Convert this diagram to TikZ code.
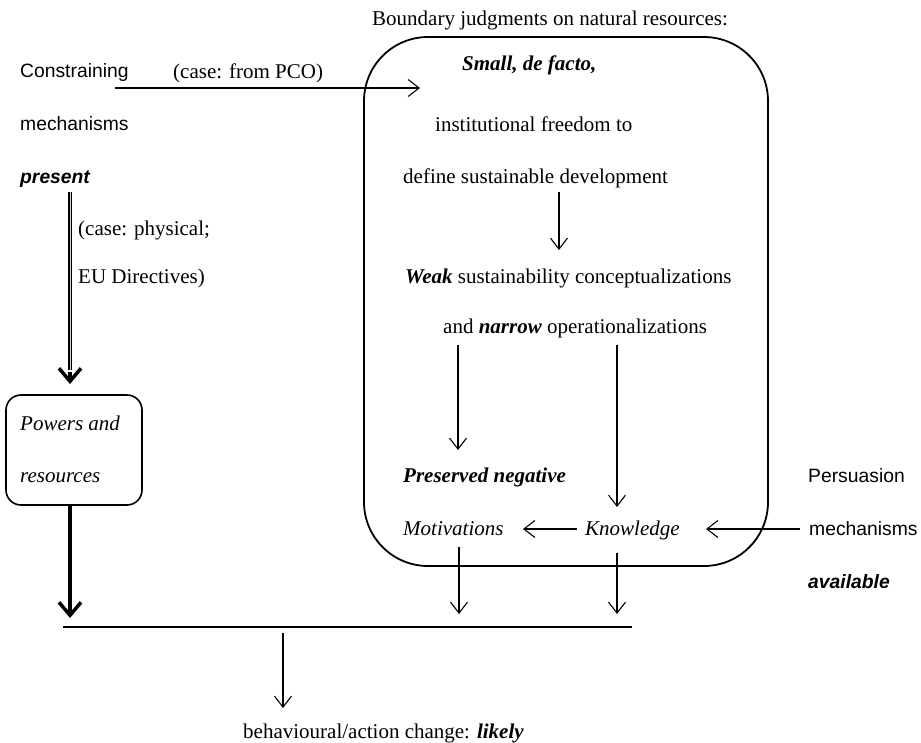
\documentclass[tikz,border=0pt]{standalone}
\usepackage{fontspec}
\setmainfont{Liberation Serif}
\setsansfont{Liberation Sans}
\usetikzlibrary{arrows.meta}
\begin{document}
\begin{tikzpicture}[x=1pt,y=-1pt,
  serif/.style={anchor=base west,inner sep=0pt,font=\fontsize{21}{25}\selectfont},
  sans/.style={anchor=base west,inner sep=0pt,font=\sffamily\fontsize{19.3}{23}\selectfont},
  thinarrow/.style={line width=1.1pt,-{Straight Barb[length=11pt,width=17pt,line width=1.1pt]}},
  thickarrow/.style={line width=3.5pt,-{Straight Barb[length=13pt,width=22pt,line width=3.5pt]}},
  dblarrow/.style={double=gray!40,double distance=0.9pt,line width=1.4pt},
  boxstyle/.style={draw,line width=1.8pt}]
\useasboundingbox (0,0) rectangle (921,742);
% title and big box
\node[serif] (title) at (372,25) {Boundary judgments on natural resources:};
\draw[boxstyle,rounded corners=64pt] (364,37) rectangle (768,566);
% left labels
\node[sans] (constr) at (20,77) {Constraining};
\node[sans] (mechl) at (20,130) {mechanisms};
\node[sans] (present) at (20,183) {\bfseries\itshape present};
\node[serif] (pco) at (173,78) {(case: from PCO)};
\node[serif] (phys) at (78,235) {(case: physical;};
\node[serif] (eu) at (78,283) {EU Directives)};
% box contents
\node[serif] (small) at (462,70) {\bfseries\itshape Small, de facto,};
\node[serif] (inst) at (435,131) {institutional freedom to};
\node[serif] (define) at (403,183) {define sustainable development};
\node[serif] (weak) at (405,283) {\textbf{\textit{Weak}} sustainability conceptualizations};
\node[serif] (narrow) at (443,333) {and \textbf{\textit{narrow}} operationalizations};
\node[serif] (preserved) at (403,482) {\bfseries\itshape Preserved negative};
\node[serif] (motiv) at (403,535) {\itshape Motivations};
\node[serif] (know) at (585,535) {\itshape Knowledge};
% right labels
\node[sans] (pers) at (808,482) {Persuasion};
\node[sans] (mechr) at (809,535) {mechanisms};
\node[sans] (avail) at (808,588) {\bfseries\itshape available};
% powers box
\draw[boxstyle,line width=1.6pt,rounded corners=15pt] (6,395) rectangle (142,505);
\node[serif] (pow1) at (20,430) {\itshape Powers and};
\node[serif] (pow2) at (20,482) {\itshape resources};
% bottom
\node[serif] (change) at (243,738) {behavioural/action change: \textbf{\textit{likely}}};
% connector end points
\coordinate (pcoS) at (115,88); \coordinate (pcoE) at (420,88);
\coordinate (defS) at (559,192); \coordinate (defE) at (559,250);
\coordinate (nwS) at (458,345); \coordinate (nwE) at (458,450);
\coordinate (neS) at (617,345); \coordinate (neE) at (617,507);
\coordinate (kmS) at (577,529); \coordinate (kmE) at (523,529);
\coordinate (pkS) at (800,529); \coordinate (pkE) at (706,529);
\coordinate (mbS) at (459,547); \coordinate (mbE) at (459,614);
\coordinate (kbS) at (617,553); \coordinate (kbE) at (617,614);
\coordinate (barL) at (63,627); \coordinate (barR) at (632,627);
\coordinate (chS) at (283,633); \coordinate (chE) at (283,708);
\coordinate (preS) at (70,192); \coordinate (preM) at (70,370); \coordinate (preE) at (70,384);
\coordinate (powS) at (70,505); \coordinate (powE) at (70,618);
% connectors
\draw[thinarrow] (pcoS) -- (pcoE);
\draw[thinarrow] (defS) -- (defE);
\draw[thinarrow] (nwS) -- (nwE);
\draw[thinarrow] (neS) -- (neE);
\draw[thinarrow] (kmS) -- (kmE);
\draw[thinarrow] (pkS) -- (pkE);
\draw[thinarrow] (mbS) -- (mbE);
\draw[thinarrow] (kbS) -- (kbE);
\draw[line width=1.8pt] (barL) -- (barR);
\draw[thinarrow] (chS) -- (chE);
\draw[dblarrow] (preS) -- (preM);
\draw[thickarrow] ([yshift=-2pt]preM) -- (preE);
\draw[thickarrow] (powS) -- (powE);
\end{tikzpicture}
\end{document}
